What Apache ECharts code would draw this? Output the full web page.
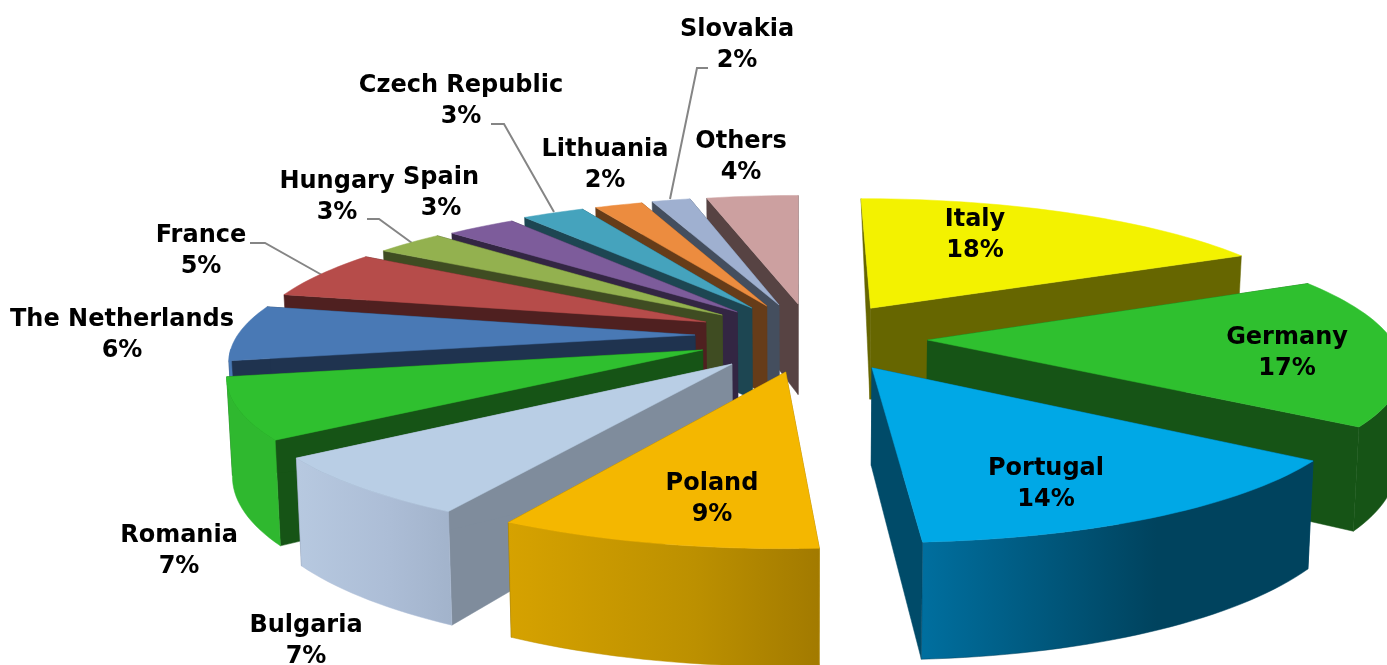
<!DOCTYPE html>
<html><head><meta charset="utf-8">
<style>html,body{margin:0;padding:0;background:#fff}#c{width:1387px;height:665px}</style>
<script src="https://cdn.jsdelivr.net/npm/echarts@6/dist/echarts.min.js"></script>
</head><body><div id="c"></div>
<script>
// ---- data (clockwise from 12 o'clock) ----
const countries = ['Italy','Germany','Portugal','Poland','Bulgaria','Romania','The Netherlands','France','Hungary','Spain','Czech Republic','Lithuania','Slovakia','Others'];
const sliceShares = [17.7,17.1,14.2,9.1,6.9,7,6.5,5.7,2.9,2.9,2.6,2,1.6,3.8];
const labelPercents = [18,17,14,9,7,7,6,5,3,3,3,2,2,4];

// ---- explosion of each slice (fraction of radius, direction in degrees) ----
const explode = [.26,.279,.279,.264,.251,.232,.225,.227,.228,.223,.232,.234,.235,.2385];
const explodeDir = [38,97.6,147,186,214,242,270,295.6,311.7,322,333,342,349,359.5];
const radiusScale = [1,1,1,1,1,.993,.99,.99,.99,.99,.995,.995,1,1];

// ---- colours ----
const topColors = ['#F3F200','#2FC02F','#00A8E6','#F4B700','#B9CEE5','#2FC02F','#4979B5','#B64C4A','#93B14F','#7D5C9B','#45A3BD','#EC8C3F','#9FB0D0','#CCA0A0'];
const faceColors = ['#666600','#165416','#004B69','#8a6a00','#7F8C9C','#165416','#1F334F','#4F2020','#3F4C22','#332643','#1D4652','#663C19','#444E5E','#574343'];
const wallStops = [
  ['#666600','#666600','#666600'],['#165416','#165416','#165416'],['#006F9F','#00435E','#00435E'],
  ['#D6A200','#BC9000','#A27A00'],['#B7C9E0','#ACBDD6','#A2B3CB'],['#2FB82F','#2FB82F','#2FB82F'],
  ['#4979B5','#4979B5','#4979B5'],['#B64C4A','#B64C4A','#B64C4A'],['#93B14F','#93B14F','#93B14F'],
  ['#7D5C9B','#7D5C9B','#7D5C9B'],['#45A3BD','#45A3BD','#45A3BD'],['#EC8C3F','#EC8C3F','#EC8C3F'],
  ['#9FB0D0','#9FB0D0','#9FB0D0'],['#CCA0A0','#CCA0A0','#CCA0A0']];

// ---- label layout ----
const labelX = [975,1287,1046,712,306,179,122,201,337,441,461,605,737,741];
const labelY = [235,353,484,499,641,551,335,251,197,193,101,165,45,157];
const leaders = [
  [[250,243],[265,243],[322,275]],
  [[367,219],[379,219],[412,243]],
  [[491,124],[504,124],[554,212]],
  [[708,68],[697,68],[670,199]]
];

const CX=799,CY=335,R=462,RY=135,K=.16,H=94,BOTTOM=.99;
const paintOrder = [13,12,11,10,9,8,7,6,5,4,0,1,2,3];
const total = sliceShares.reduce((a,b)=>a+b,0);
const starts=[]; {let a=0; for(const s of sliceShares){starts.push(a); a+=s/total*360;}}
const rad=d=>d*Math.PI/180;

function proj(u,v,bottom){
  const s=1/(1+K*v);
  let x=CX+R*u*s, y=CY-RY*v*s;
  if(bottom){ x=CX+(x-CX)*BOTTOM; y+=H*s; }
  return [x,y];
}
function rim(i,deg,bottom){
  const e=explode[i], d=rad(explodeDir[i]), r=radiusScale[i];
  return proj(e*Math.sin(d)+r*Math.sin(rad(deg)), e*Math.cos(d)+r*Math.cos(rad(deg)), bottom);
}
function apex(i,bottom){
  const e=explode[i], d=rad(explodeDir[i]);
  return proj(e*Math.sin(d), e*Math.cos(d), bottom);
}
function sweep(i,from,to,bottom){
  const pts=[], N=Math.max(8,Math.ceil((to-from)/1.5));
  for(let n=0;n<=N;n++) pts.push(rim(i,from+(to-from)*n/N,bottom));
  return pts;
}
function renderItem(params,api){
  const i=api.value(0);
  const a0=starts[i], a1=a0+sliceShares[i]/total*360;
  const face=(deg)=>[apex(i,false),rim(i,deg,false),rim(i,deg,true),apex(i,true)];
  const poly=(points,fill,stroke)=>({type:'polygon',shape:{points},style:{fill,stroke:stroke||fill,lineWidth:.5}});
  // the first slice's back face shows only as a thin sliver tapering to its rim corner
  const startFace = i===0 ? [apex(i,false),rim(i,a0,false),apex(i,true)] : face(a0);
  const children=[poly(startFace,faceColors[i]),poly(face(a1),faceColors[i])];
  // only the part of the outer wall that faces the viewer
  const w0=Math.max(a0,96), w1=Math.min(a1,264);
  if(w1>w0){
    const c=wallStops[i];
    const grad=new echarts.graphic.LinearGradient(0,0,1,0,[{offset:0,color:c[0]},{offset:.6,color:c[1]},{offset:1,color:c[2]}]);
    const t=sweep(i,w0,w1,false), b=sweep(i,w0,w1,true);
    children.push(poly(t.concat(b.reverse()),grad,c[1]));
  }
  children.push(poly([apex(i,false)].concat(sweep(i,a0,a1,false)),topColors[i]));
  return {type:'group',children};
}
function renderLabel(params,api){
  const i=api.value(0);
  return {type:'text',z2:100,style:{text:countries[i]+'\n'+labelPercents[i]+'%',x:labelX[i],y:labelY[i],align:'center',verticalAlign:'middle',
    font:'bold 24px "DejaVu Sans"',lineHeight:31,fill:'#000'}};
}
function renderLeader(params,api){
  return {type:'polyline',shape:{points:leaders[api.value(0)]},style:{stroke:'#858585',lineWidth:2,fill:null}};
}
const chart=echarts.init(document.getElementById('c'),null,{renderer:'canvas'});
chart.setOption({
  animation:false,
  series:[
    {type:'custom',coordinateSystem:'none',renderItem:renderLeader,data:leaders.map((l,n)=>[n]),z:1,silent:true},
    {type:'custom',coordinateSystem:'none',renderItem,data:paintOrder.map(i=>[i,sliceShares[i]]),z:2,silent:true},
    {type:'custom',coordinateSystem:'none',renderItem:renderLabel,data:countries.map((c,i)=>[i]),z:3,silent:true}
  ]
});
</script></body></html>
